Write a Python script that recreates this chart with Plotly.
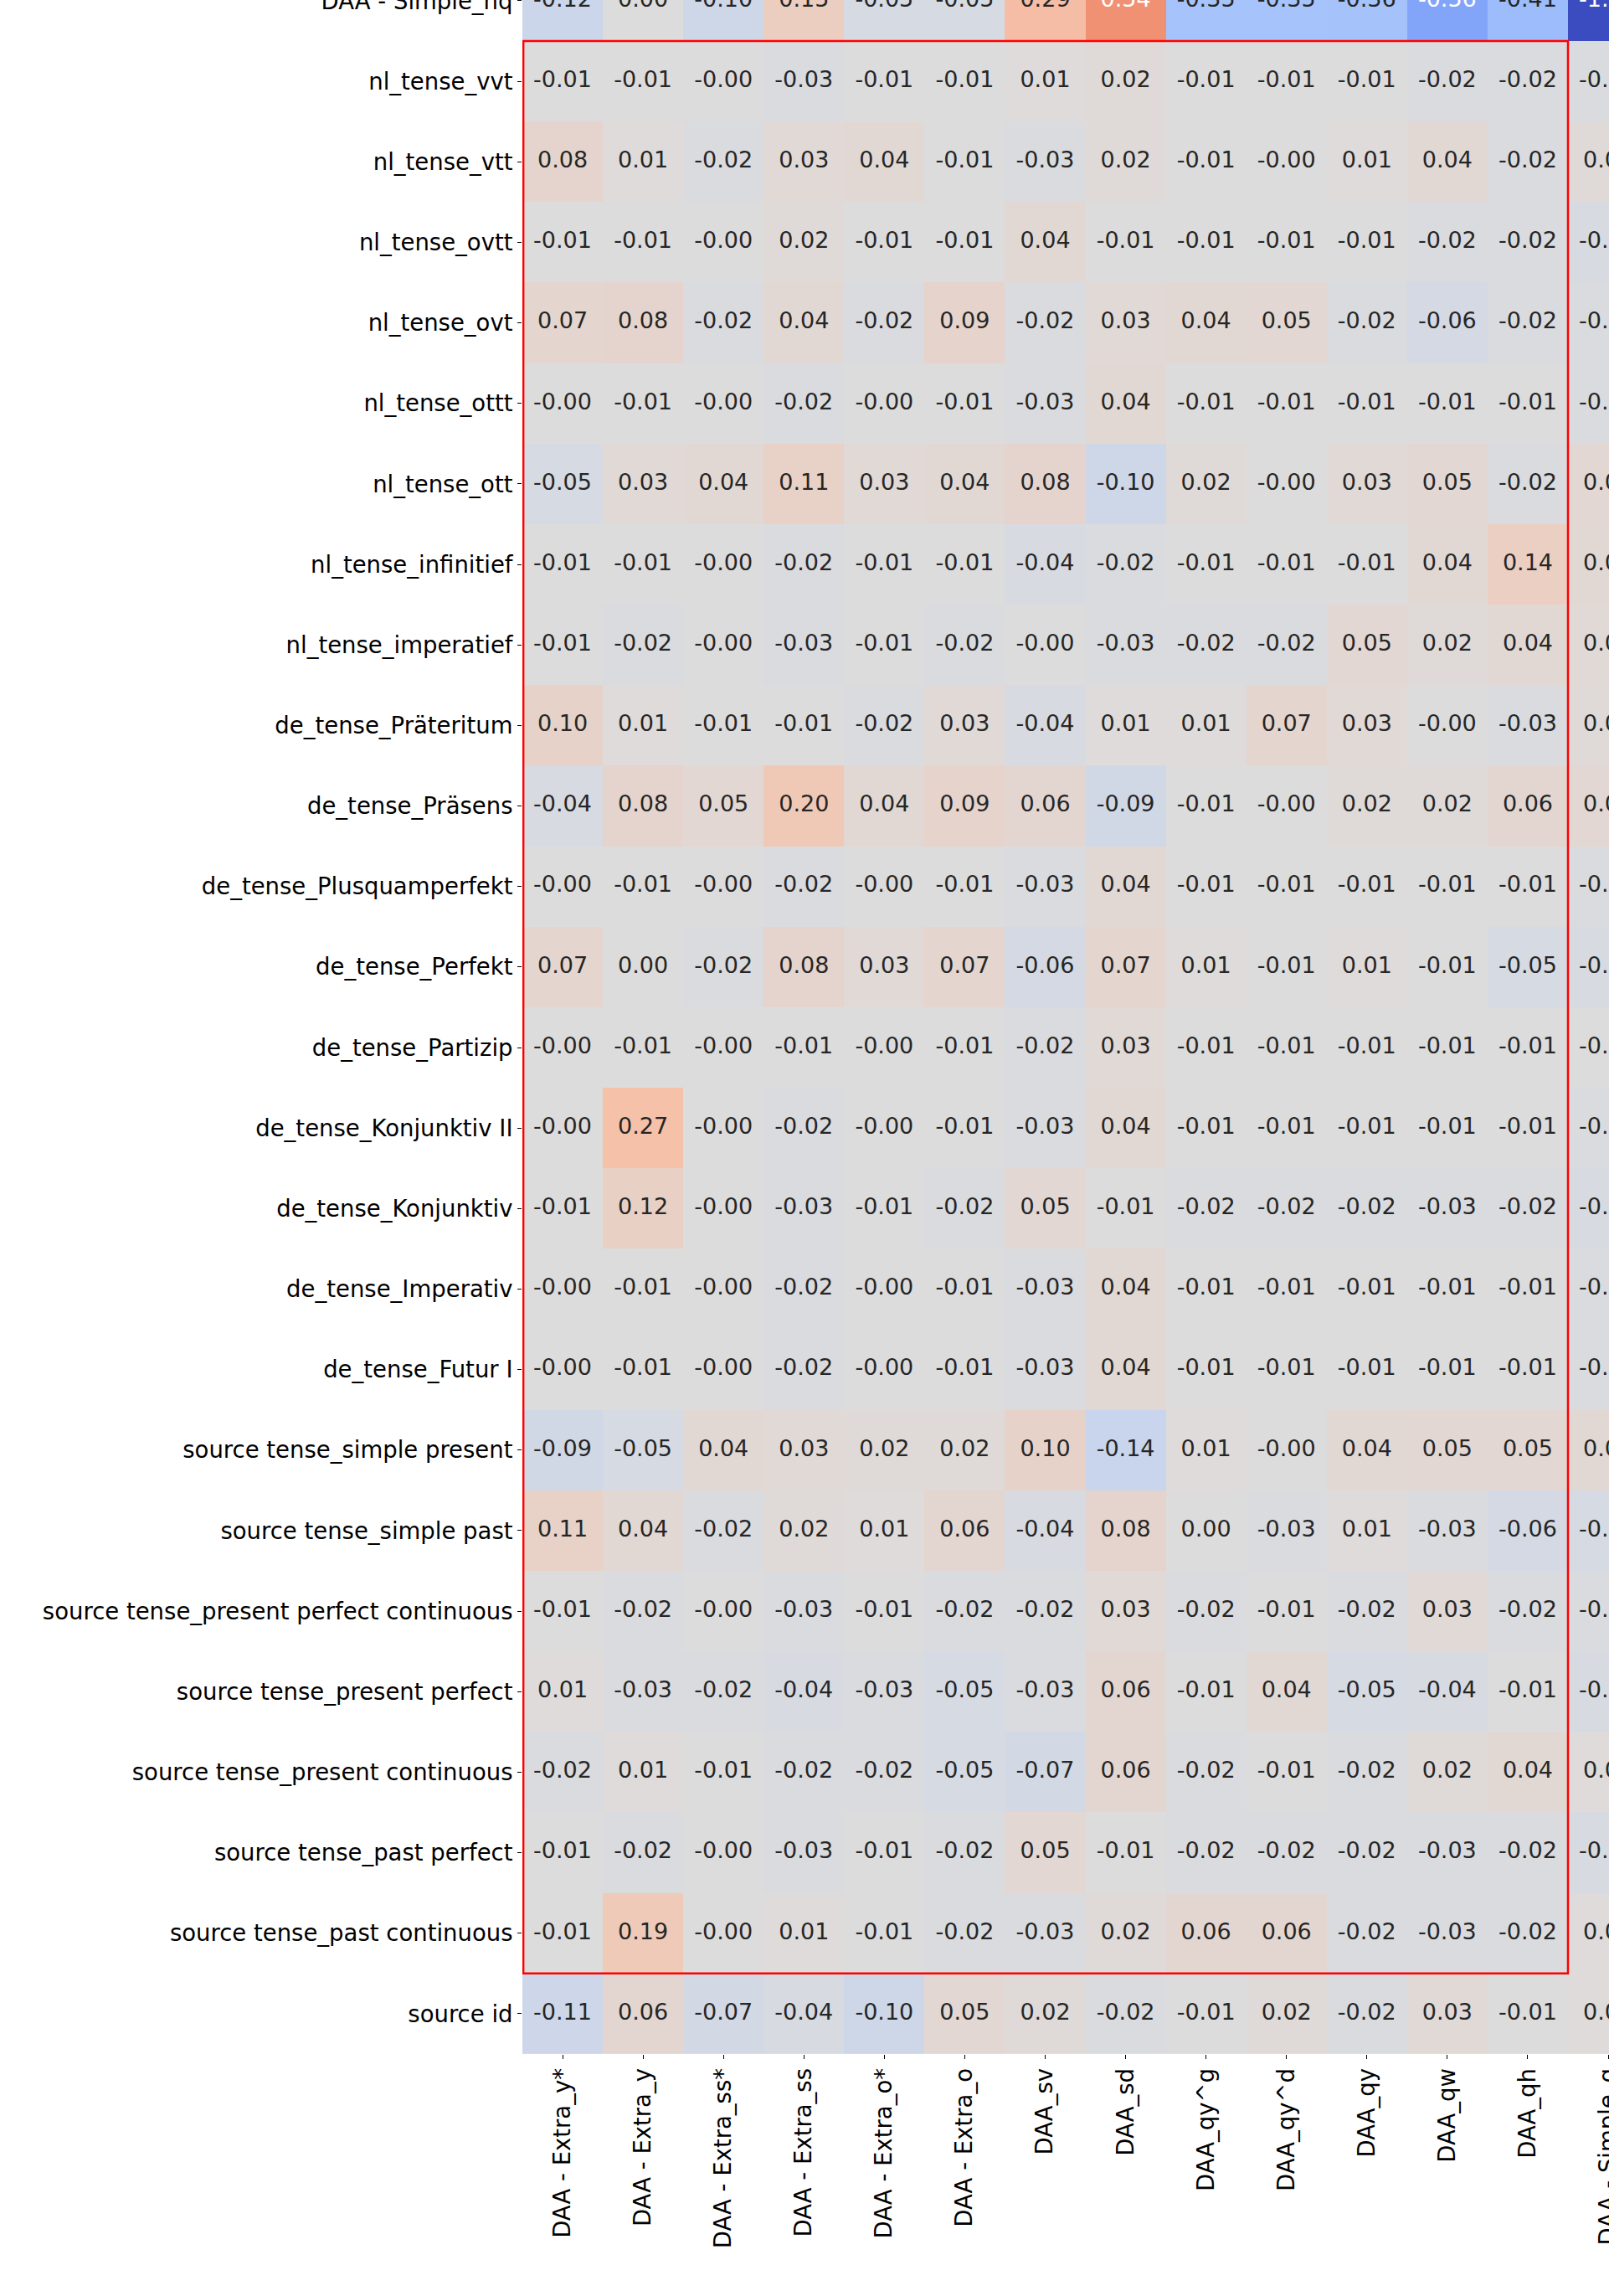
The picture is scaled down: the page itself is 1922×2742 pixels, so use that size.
import plotly.graph_objects as go

# column and row labels of the (cropped) correlation heatmap
columns = ["DAA - Extra_y*", "DAA - Extra_y", "DAA - Extra_ss*", "DAA - Extra_ss",
           "DAA - Extra_o*", "DAA - Extra_o", "DAA_sv", "DAA_sd", "DAA_qy^g",
           "DAA_qy^d", "DAA_qy", "DAA_qw", "DAA_qh", "DAA - Simple_q"]

rows = ["DAA - Simple_nq",
        "nl_tense_vvt", "nl_tense_vtt", "nl_tense_ovtt", "nl_tense_ovt",
        "nl_tense_ottt", "nl_tense_ott", "nl_tense_infinitief", "nl_tense_imperatief",
        "de_tense_Präteritum", "de_tense_Präsens", "de_tense_Plusquamperfekt",
        "de_tense_Perfekt", "de_tense_Partizip", "de_tense_Konjunktiv II",
        "de_tense_Konjunktiv", "de_tense_Imperativ", "de_tense_Futur I",
        "source tense_simple present", "source tense_simple past",
        "source tense_present perfect continuous", "source tense_present perfect",
        "source tense_present continuous", "source tense_past perfect",
        "source tense_past continuous", "source id"]

# correlation values, one list per row (last column is only half visible)
simple_nq       = [-0.12, 0.00, -0.10, 0.15, -0.05, -0.05, 0.29, 0.54, -0.35, -0.35, -0.36, -0.56, -0.41, -1.00]
nl_vvt          = [-0.01, -0.01, -0.0, -0.03, -0.01, -0.01, 0.01, 0.02, -0.01, -0.01, -0.01, -0.02, -0.02, -0.03]
nl_vtt          = [0.08, 0.01, -0.02, 0.03, 0.04, -0.01, -0.03, 0.02, -0.01, -0.0, 0.01, 0.04, -0.02, 0.02]
nl_ovtt         = [-0.01, -0.01, -0.0, 0.02, -0.01, -0.01, 0.04, -0.01, -0.01, -0.01, -0.01, -0.02, -0.02, -0.04]
nl_ovt          = [0.07, 0.08, -0.02, 0.04, -0.02, 0.09, -0.02, 0.03, 0.04, 0.05, -0.02, -0.06, -0.02, -0.03]
nl_ottt         = [-0.0, -0.01, -0.0, -0.02, -0.0, -0.01, -0.03, 0.04, -0.01, -0.01, -0.01, -0.01, -0.01, -0.02]
nl_ott          = [-0.05, 0.03, 0.04, 0.11, 0.03, 0.04, 0.08, -0.10, 0.02, -0.0, 0.03, 0.05, -0.02, 0.05]
nl_infinitief   = [-0.01, -0.01, -0.0, -0.02, -0.01, -0.01, -0.04, -0.02, -0.01, -0.01, -0.01, 0.04, 0.14, 0.04]
nl_imperatief   = [-0.01, -0.02, -0.0, -0.03, -0.01, -0.02, -0.0, -0.03, -0.02, -0.02, 0.05, 0.02, 0.04, 0.03]
de_praeteritum  = [0.10, 0.01, -0.01, -0.01, -0.02, 0.03, -0.04, 0.01, 0.01, 0.07, 0.03, -0.0, -0.03, 0.02]
de_praesens     = [-0.04, 0.08, 0.05, 0.20, 0.04, 0.09, 0.06, -0.09, -0.01, -0.0, 0.02, 0.02, 0.06, 0.05]
de_plusquam     = [-0.0, -0.01, -0.0, -0.02, -0.0, -0.01, -0.03, 0.04, -0.01, -0.01, -0.01, -0.01, -0.01, -0.02]
de_perfekt      = [0.07, 0.00, -0.02, 0.08, 0.03, 0.07, -0.06, 0.07, 0.01, -0.01, 0.01, -0.01, -0.05, -0.04]
de_partizip     = [-0.0, -0.01, -0.0, -0.01, -0.0, -0.01, -0.02, 0.03, -0.01, -0.01, -0.01, -0.01, -0.01, -0.01]
de_konj2        = [-0.0, 0.27, -0.0, -0.02, -0.0, -0.01, -0.03, 0.04, -0.01, -0.01, -0.01, -0.01, -0.01, -0.02]
de_konj         = [-0.01, 0.12, -0.0, -0.03, -0.01, -0.02, 0.05, -0.01, -0.02, -0.02, -0.02, -0.03, -0.02, -0.04]
de_imperativ    = [-0.0, -0.01, -0.0, -0.02, -0.0, -0.01, -0.03, 0.04, -0.01, -0.01, -0.01, -0.01, -0.01, -0.02]
de_futur1       = [-0.0, -0.01, -0.0, -0.02, -0.0, -0.01, -0.03, 0.04, -0.01, -0.01, -0.01, -0.01, -0.01, -0.02]
src_simple_pres = [-0.09, -0.05, 0.04, 0.03, 0.02, 0.02, 0.10, -0.14, 0.01, -0.0, 0.04, 0.05, 0.05, 0.04]
src_simple_past = [0.11, 0.04, -0.02, 0.02, 0.01, 0.06, -0.04, 0.08, 0.00, -0.03, 0.01, -0.03, -0.06, -0.05]
src_pres_pc     = [-0.01, -0.02, -0.0, -0.03, -0.01, -0.02, -0.02, 0.03, -0.02, -0.01, -0.02, 0.03, -0.02, -0.02]
src_pres_perf   = [0.01, -0.03, -0.02, -0.04, -0.03, -0.05, -0.03, 0.06, -0.01, 0.04, -0.05, -0.04, -0.01, -0.04]
src_pres_cont   = [-0.02, 0.01, -0.01, -0.02, -0.02, -0.05, -0.07, 0.06, -0.02, -0.01, -0.02, 0.02, 0.04, 0.01]
src_past_perf   = [-0.01, -0.02, -0.0, -0.03, -0.01, -0.02, 0.05, -0.01, -0.02, -0.02, -0.02, -0.03, -0.02, -0.04]
src_past_cont   = [-0.01, 0.19, -0.0, 0.01, -0.01, -0.02, -0.03, 0.02, 0.06, 0.06, -0.02, -0.03, -0.02, 0.01]
src_id          = [-0.11, 0.06, -0.07, -0.04, -0.10, 0.05, 0.02, -0.02, -0.01, 0.02, -0.02, 0.03, -0.01, 0.01]

z = [simple_nq, nl_vvt, nl_vtt, nl_ovtt, nl_ovt, nl_ottt, nl_ott, nl_infinitief,
     nl_imperatief, de_praeteritum, de_praesens, de_plusquam, de_perfekt,
     de_partizip, de_konj2, de_konj, de_imperativ, de_futur1, src_simple_pres,
     src_simple_past, src_pres_pc, src_pres_perf, src_pres_cont, src_past_perf,
     src_past_cont, src_id]

# matplotlib "coolwarm"
coolwarm = [[0.0, "#3b4cc0"], [0.125, "#6282ea"], [0.25, "#8db0fe"],
            [0.375, "#b8d0f9"], [0.5, "#dddcdc"], [0.625, "#f5c4ad"],
            [0.75, "#f49a7b"], [0.875, "#de604d"], [1.0, "#b40426"]]

xs = list(range(len(columns)))
ys = list(range(len(rows)))

heat = go.Heatmap(z=z, x=xs, y=ys, colorscale=coolwarm, zmin=-1, zmax=1,
                  showscale=False, hoverinfo="skip")

# annotation text, white on the strong cells
tx, ty, tt, tc = [], [], [], []
for i, row in enumerate(z):
    for j, v in enumerate(row):
        tx.append(j)
        ty.append(i)
        tt.append(f"{v:.2f}")
        tc.append("white" if abs(v) >= 0.5 else "#262626")

labels = go.Scatter(x=tx, y=ty, text=tt, mode="text",
                    textfont=dict(family="DejaVu Sans", size=27, color=tc),
                    hoverinfo="skip", showlegend=False)

fig = go.Figure(data=[heat, labels])

fig.update_layout(
    width=1922, height=2742,
    margin=dict(l=624, r=0, t=0, b=289, autoexpand=False),
    paper_bgcolor="white", plot_bgcolor="white",
    font=dict(family="DejaVu Sans", size=27.5, color="black"),
    showlegend=False,
    shapes=[dict(type="rect", xref="x", yref="y", x0=-0.488, x1=12.5,
                 y0=0.5, y1=24.5, line=dict(color="red", width=2.5))],
)
fig.update_xaxes(range=[-0.5, 13.01], tickvals=xs, ticktext=columns,
                 tickangle=-90, ticks="outside", ticklen=5, tickwidth=1,
                 tickcolor="black", showgrid=False, zeroline=False,
                 showline=False, automargin=False, ticklabeloverflow="allow")
fig.update_yaxes(range=[25.5, -0.01], tickvals=ys, ticktext=rows,
                 ticks="outside", ticklen=5, tickwidth=1,
                 tickcolor="black", showgrid=False, zeroline=False,
                 showline=False, automargin=False, ticklabeloverflow="allow")

# page body has an 8px default margin; drop it so the figure sits at 0,0
fig.write_html("out.html", config={"displayModeBar": False},
               post_script="document.body.style.margin='0';")
